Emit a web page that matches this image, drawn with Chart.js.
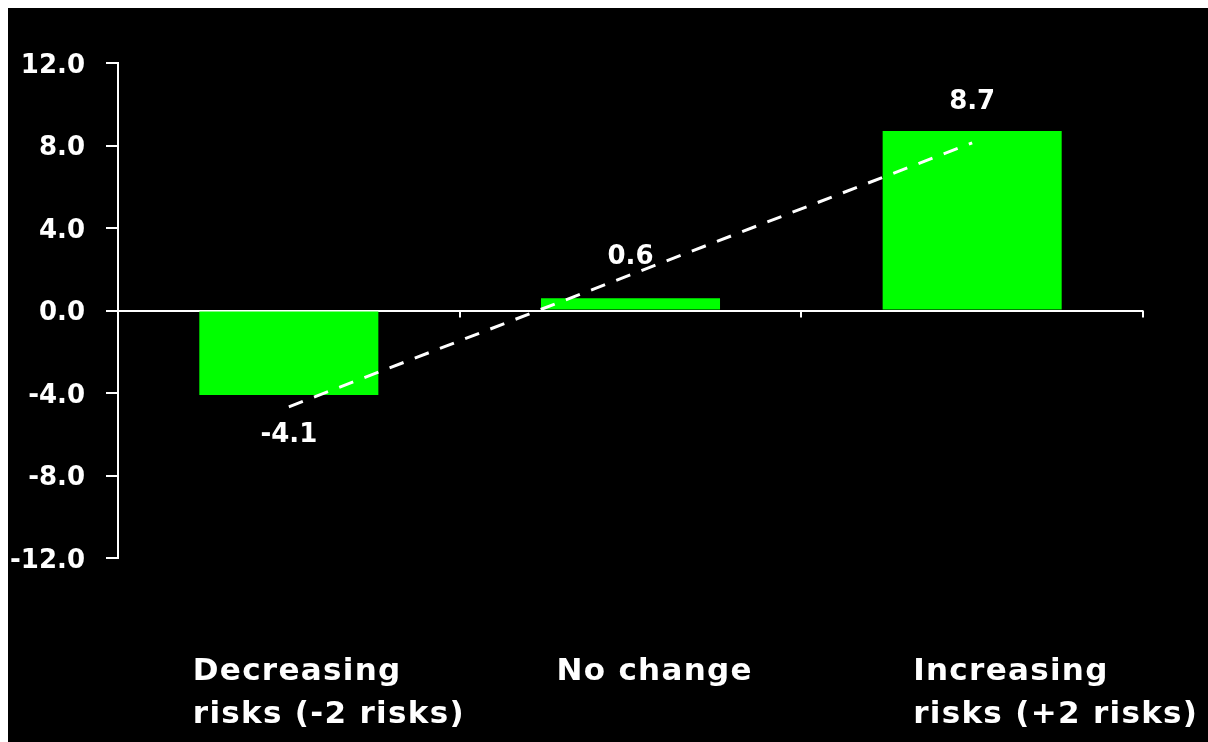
<!DOCTYPE html>
<html>
<head>
<meta charset="utf-8">
<script src="https://cdn.jsdelivr.net/npm/chart.js@4/dist/chart.umd.min.js"></script>
<style>
    html, body { margin: 0; padding: 0; background: #fff; overflow: hidden; }
    body { margin: 8px 0 0 8px; }
    #wrap { width: 1200px; height: 734px; background: #000; position: relative; }
</style>
</head>
<body>
<div id="wrap"><canvas id="riskChart"></canvas></div>
<script>

const categories = [
    ["Decreasing", "risks (-2 risks)"],
    ["No change"],
    ["Increasing", "risks (+2 risks)"]
];

const changeValues = [-4.1, 0.6, 8.7];

// dashed trend line at each category centre
const trendValues = [-4.67, 1.73, 8.13];

const yTicks = [-12, -8, -4, 0, 4, 8, 12];

const FONT = "'DejaVu Sans', Verdana, sans-serif";

// value labels above / below the bars
const valueLabels = {
    id: "valueLabels",
    afterDatasetsDraw(chart) {
        const ctx = chart.ctx;
        const meta = chart.getDatasetMeta(0);
        const gaps = [40, 41, 29];
        ctx.save();
        ctx.font = "bold 26px " + FONT;
        ctx.fillStyle = "#fff";
        ctx.textAlign = "center";
        ctx.textBaseline = "middle";
        meta.data.forEach((bar, i) => {
            const v = changeValues[i];
            const y = v < 0 ? bar.y + gaps[i] : bar.y - gaps[i];
            ctx.fillText(v.toFixed(1), bar.x, y);
        });
        ctx.restore();
    }
};

// category labels under the plot + small ticks on the zero line
const categoryLabels = {
    id: "categoryLabels",
    afterDraw(chart) {
        const ctx = chart.ctx;
        const x = chart.scales.x;
        const y = chart.scales.y;
        const zero = y.getPixelForValue(0);
        const shift = [-96, -74, -59];

        ctx.save();
        ctx.strokeStyle = "#fff";
        ctx.lineWidth = 2;
        const step = x.getPixelForValue(1) - x.getPixelForValue(0);
        for (let i = 1; i <= categories.length; i++) {
            const px = Math.round(x.getPixelForValue(i - 1) + step / 2);
            ctx.beginPath();
            ctx.moveTo(px, zero);
            ctx.lineTo(px, zero + 7);
            ctx.stroke();
        }

        ctx.font = "bold 31px " + FONT;
        ctx.letterSpacing = "1.3px";
        ctx.fillStyle = "#fff";
        ctx.textAlign = "left";
        ctx.textBaseline = "alphabetic";
        categories.forEach((lines, i) => {
            const left = x.getPixelForValue(i) + shift[i];
            lines.forEach((line, j) => {
                ctx.fillText(line, left, 672 + j * 43);
            });
        });
        ctx.restore();
    }
};

new Chart(document.getElementById("riskChart"), {
    data: {
        labels: categories,
        datasets: [
            {
                type: "bar",
                data: changeValues,
                backgroundColor: "#00FF00",
                borderWidth: 0,
                categoryPercentage: 1,
                barPercentage: 0.524,
                order: 2
            },
            {
                type: "line",
                data: trendValues,
                borderColor: "#fff",
                borderWidth: 3,
                borderDash: [15, 12],
                pointRadius: 0,
                fill: false,
                order: 1
            }
        ]
    },
    options: {
        responsive: true,
        maintainAspectRatio: false,
        animation: false,
        layout: {
            padding: { top: 55, right: 65, bottom: 184, left: 0 }
        },
        plugins: {
            legend: { display: false },
            tooltip: { enabled: false }
        },
        scales: {
            x: {
                display: false
            },
            y: {
                min: yTicks[0],
                max: yTicks[yTicks.length - 1],
                afterBuildTicks(scale) {
                    scale.ticks = yTicks.map(v => ({ value: v }));
                },
                afterFit(scale) {
                    scale.width = 110;
                },
                border: { display: true, color: "#fff", width: 2 },
                grid: {
                    drawOnChartArea: true,
                    color: ctx => ctx.tick && ctx.tick.value === 0 ? "#fff" : "rgba(0,0,0,0)",
                    tickColor: "#fff",
                    tickLength: 12,
                    lineWidth: 2
                },
                ticks: {
                    color: "#fff",
                    padding: 21,
                    labelOffset: 3,
                    font: { family: FONT, size: 26, weight: "bold" },
                    callback: v => v.toFixed(1)
                }
            }
        }
    },
    plugins: [valueLabels, categoryLabels]
});

</script>
</body>
</html>
